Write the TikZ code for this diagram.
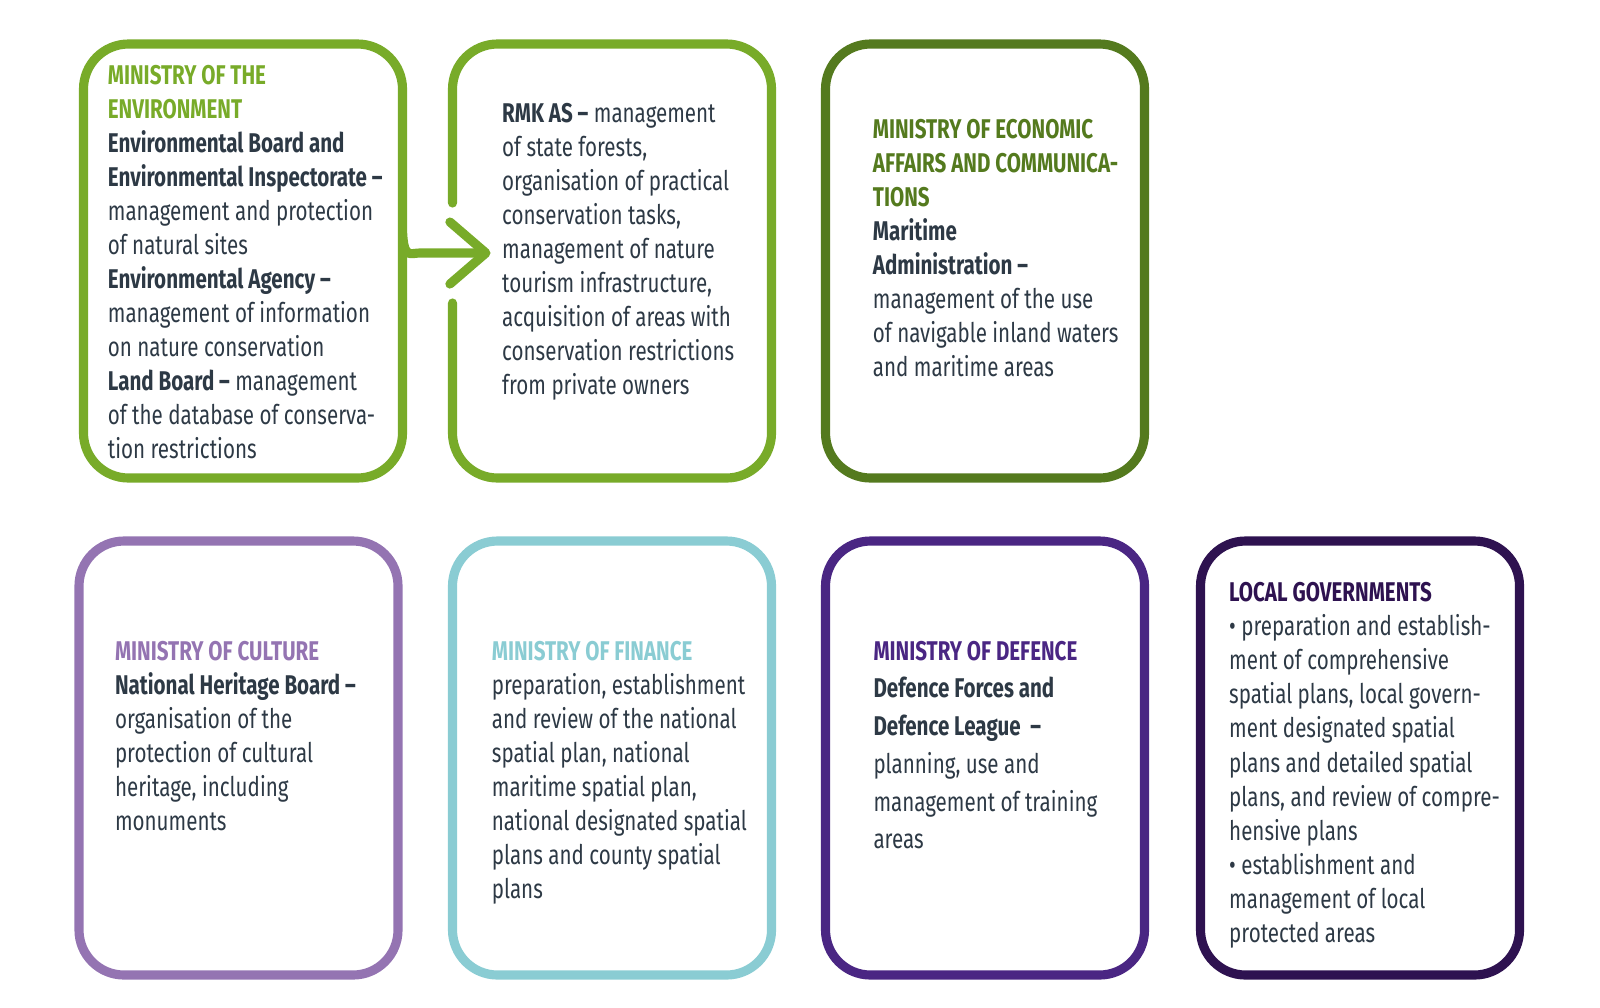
\documentclass[tikz,border=0pt]{standalone}
\usepackage{fontspec}
\setmainfont{Fira Sans}[FakeStretch=0.76]
\usetikzlibrary{calc, arrows.meta}
\definecolor{envgreen}{RGB}{120,171,41}
\definecolor{econgreen}{RGB}{84,122,30}
\definecolor{culturepurple}{RGB}{148,116,178}
\definecolor{financecyan}{RGB}{138,204,211}
\definecolor{defencepurple}{RGB}{74,38,131}
\definecolor{localpurple}{RGB}{46,18,80}
\definecolor{bodyslate}{RGB}{45,57,69}
\tikzset{
  every node/.style={align=left}
}
\newcommand{\fst}{\rule{0pt}{0.22cm}}
\newcommand{\hd}[2]{{\color{#1}\bfseries #2}}

\begin{document}
\begin{tikzpicture}
\tikzstyle{box}=[rectangle, draw, rounded corners=0.45cm, line width=2.6pt,
  minimum width=3.19cm, minimum height=4.34cm, inner sep=0pt, outer sep=0pt]
\tikzstyle{frame}=[draw, line width=2.6pt, line cap=round, line join=round]
\tikzstyle{txt}=[anchor=north west, inner sep=0pt, text=bodyslate,
  font=\fontsize{7.7pt}{9.69pt}\selectfont]
\tikzstyle{flow}=[-{Straight Barb[length=0.36cm, width=0.62cm, round]}]

\useasboundingbox (0,0) rectangle (16,-10.07);

% top row
\node[box, draw=none](env) at (2.43,-2.61){};
\node[box, draw=none, right of=env, node distance=3.69cm](rmk){};
\node[box, draw=econgreen, right of=rmk, node distance=3.73cm](econ){};

% bottom row
\node[box, draw=culturepurple](cult) at (2.385,-7.58){};
\node[box, draw=financecyan, right of=cult, node distance=3.735cm](fin){};
\node[box, draw=defencepurple, right of=fin, node distance=3.73cm](def){};
\node[box, draw=localpurple, right of=def, node distance=3.75cm](local){};

% open frames and arrow env -> rmk
\coordinate (envcut) at ($(env.east)+(0,0.28)$);
\coordinate (bend) at ($(env.east)+(0,-0.09)$);
\coordinate (tip) at ($(rmk.west)+(0.38,0.08)$);
\coordinate (rmkcutA) at ($(rmk.west)+(0,0.58)$);
\coordinate (rmkcutB) at ($(rmk.west)+(0,-0.42)$);

\draw[frame, flow, envgreen](envcut) [rounded corners=0.45cm] -- (env.north east)
  -- (env.north west) -- (env.south west) -- (env.south east) -- (bend)
  [sharp corners] arc[start angle=180, end angle=90, radius=0.17cm] -- (tip);
\draw[frame, envgreen](rmkcutB) [rounded corners=0.45cm] -- (rmk.south west)
  -- (rmk.south east) -- (rmk.north east) -- (rmk.north west) -- (rmkcutA);

% texts
\node[txt](envtxt) at ($(env.north west)+(0.237,-0.173)$){\fst\hd{envgreen}{MINISTRY OF THE}\\
  \hd{envgreen}{ENVIRONMENT}\\
  \textbf{Environmental Board and}\\
  \textbf{Environmental Inspectorate –}\\
  management and protection\\
  of natural sites\\
  \textbf{Environmental Agency –}\\
  management of information\\
  on nature conservation\\
  \textbf{Land Board –} management\\
  of the database of conserva-\\
  tion restrictions};

\node[txt](rmktxt) at ($(rmk.north west)+(0.49,-0.557)$){\fst\textbf{RMK AS –} management\\
  of state forests,\\
  organisation of practical\\
  conservation tasks,\\
  management of nature\\
  tourism infrastructure,\\
  acquisition of areas with\\
  conservation restrictions\\
  from private owners};

\node[txt](econtxt) at ($(econ.north west)+(0.467,-0.713)$){\fst\hd{econgreen}{MINISTRY OF ECONOMIC}\\
  \hd{econgreen}{AFFAIRS AND COMMUNICA-}\\
  \hd{econgreen}{TIONS}\\
  \textbf{Maritime}\\
  \textbf{Administration –}\\
  management of the use\\
  of navigable inland waters\\
  and maritime areas};

\node[txt](culttxt) at ($(cult.north west)+(0.353,-0.963)$){\fst\hd{culturepurple}{MINISTRY OF CULTURE}\\
  \textbf{National Heritage Board –}\\
  organisation of the\\
  protection of cultural\\
  heritage, including\\
  monuments};

\node[txt](fintxt) at ($(fin.north west)+(0.387,-0.963)$){\fst\hd{financecyan}{MINISTRY OF FINANCE}\\
  preparation, establishment\\
  and review of the national\\
  spatial plan, national\\
  maritime spatial plan,\\
  national designated spatial\\
  plans and county spatial\\
  plans};

\node[txt, font=\fontsize{7.7pt}{10.75pt}\selectfont](deftxt) at ($(def.north west)+(0.473,-0.963)$){\fst\hd{defencepurple}{MINISTRY OF DEFENCE}\\
  \textbf{Defence Forces and}\\
  \textbf{Defence League\ \ –}\\
  planning, use and\\
  management of training\\
  areas};

\node[txt](localtxt) at ($(local.north west)+(0.28,-0.38)$){\fst\hd{localpurple}{LOCAL GOVERNMENTS}\\
  • preparation and establish-\\
  ment of comprehensive\\
  spatial plans, local govern-\\
  ment designated spatial\\
  plans and detailed spatial\\
  plans, and review of compre-\\
  hensive plans\\
  • establishment and\\
  management of local\\
  protected areas};

\end{tikzpicture}
\end{document}
